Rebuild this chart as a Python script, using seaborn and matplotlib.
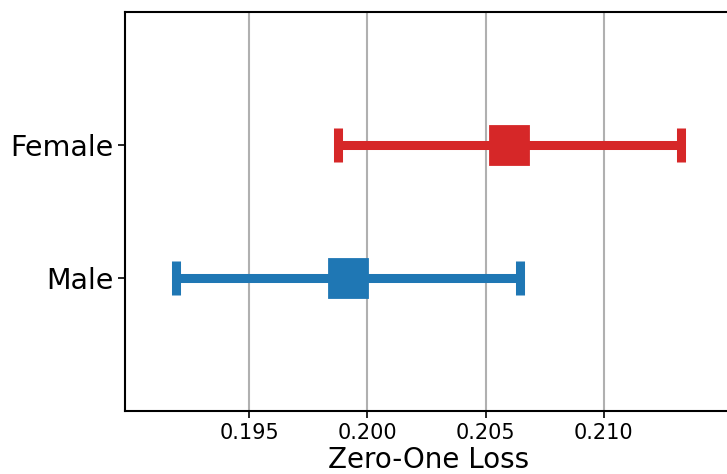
import numpy as np
import pandas as pd
import matplotlib
matplotlib.use("Agg")
import matplotlib.pyplot as plt
import seaborn as sns

# values
groups = ["Female", "Male"]
loss_mean = [0.2060, 0.1992]
loss_low = [0.19877, 0.19193]
loss_high = [0.21325, 0.20647]
colors = {"Female": "#d62728", "Male": "#1f77b4"}
xticks = [0.195, 0.200, 0.205, 0.210]

df = pd.DataFrame({"group": groups, "loss": loss_mean,
                   "low": loss_low, "high": loss_high})

sns.set_style("white")
plt.rcParams['font.family'] = ['DejaVu Sans']
plt.rcParams['text.color'] = 'black'
plt.rcParams['axes.labelcolor'] = 'black'
plt.rcParams['xtick.color'] = 'black'
plt.rcParams['ytick.color'] = 'black'

fig = plt.figure(figsize=(7.27, 4.74), dpi=100)
ax = fig.add_axes([0.172, 0.133, 0.835, 0.842])

# centre squares
sns.pointplot(data=df, x="loss", y="group", hue="group", order=groups,
              palette=colors, errorbar=None, markers="s", linestyle="none",
              markersize=27, legend=False, zorder=5, ax=ax)

# confidence intervals
for i, row in df.iterrows():
    ax.errorbar(row["loss"], i,
                xerr=[[row["loss"] - row["low"]], [row["high"] - row["loss"]]],
                fmt="none", ecolor=colors[row["group"]], elinewidth=6.5,
                capsize=12.5, capthick=6.5, zorder=4)

ax.set_xlim(0.18976, 0.21542)
ax.set_ylim(2, -1)
ax.set_xticks(xticks)
ax.set_xticklabels(["%.3f" % t for t in xticks])
ax.set_ylabel("")
ax.set_xlabel("Zero-One Loss", fontsize=20, labelpad=2)
ax.tick_params(axis="x", labelsize=15, length=5, width=1.2, bottom=True)
ax.tick_params(axis="y", labelsize=20.5, length=5, width=1.2, left=True)

ax.grid(axis="x", color="#b0b0b0", linewidth=1.5)
ax.grid(axis="y", visible=False)
ax.set_axisbelow(True)
for s in ax.spines.values():
    s.set_color("black")
    s.set_linewidth(1.5)

fig.savefig("out.png", dpi=100)
